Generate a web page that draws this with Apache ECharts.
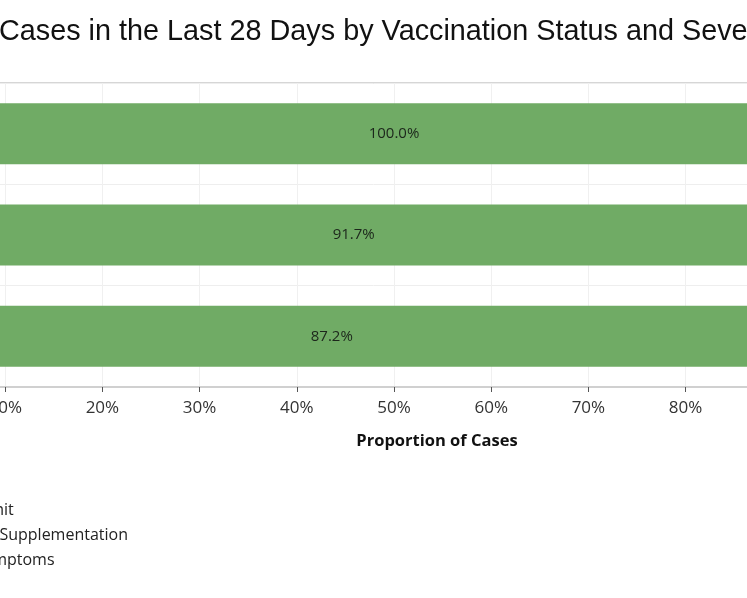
<!DOCTYPE html>
<html>
<head>
<meta charset="utf-8">
<script src="https://cdn.jsdelivr.net/npm/echarts@6/dist/echarts.min.js"></script>
<style>
html,body{margin:0;padding:0;background:#fff;overflow:hidden;}
#chart{width:747px;height:598px;}
</style>
</head>
<body>
<div id="chart"></div>
<script>
// ---- data ----
const categories = ['Fully Vaccinated', 'Partially Vaccinated', 'Unvaccinated'];
const seriesNames = ['ICU Admit', 'Oxygen Supplementation', 'Mild Symptoms'];
const mildSymptoms = [100.0, 91.7, 87.2];
const icuAdmit = [0.0, 2.8, 4.3];
const oxygenSupplementation = [0.0, 5.5, 8.5];
const xTicks = [0, 10, 20, 30, 40, 50, 60, 70, 80, 90, 100];

// ---- layout helpers ----
const legendFont = '16px "Open Sans"';
const mc = document.createElement('canvas').getContext('2d');
mc.font = legendFont;
const oxyW = mc.measureText(seriesNames[1]).width;
const legendTextStart = 128 - oxyW;
const legendItemW = 14;

const chart = echarts.init(document.getElementById('chart'), null, {renderer: 'canvas'});
const green = '#70ab65';

const option = {
  backgroundColor: '#ffffff',
  animation: false,
  title: {
    text: 'Cases in the Last 28 Days by Vaccination Status and Severity',
    left: -1,
    top: 18,
    padding: 0,
    textStyle: {
      fontFamily: '"Liberation Sans", Arial, sans-serif',
      fontSize: 28.8,
      fontWeight: 'normal',
      color: '#111'
    }
  },
  legend: {
    orient: 'vertical',
    left: legendTextStart - legendItemW - 5,
    top: 502,
    padding: 0,
    itemWidth: legendItemW,
    itemHeight: 16,
    itemGap: 9,
    data: seriesNames,
    textStyle: {
      fontFamily: '"Open Sans", sans-serif',
      fontSize: 16,
      lineHeight: 16,
      color: '#222'
    }
  },
  grid: {
    left: -92,
    right: -133,
    top: 83,
    bottom: 211,
    show: true,
    borderColor: '#d6d6d6',
    borderWidth: 2,
    containLabel: false,
    outerBoundsMode: 'none'
  },
  xAxis: {
    type: 'value',
    min: xTicks[0],
    max: xTicks[xTicks.length - 1],
    interval: 10,
    name: 'Proportion of Cases',
    nameLocation: 'middle',
    nameGap: 46,
    nameTextStyle: {
      fontFamily: '"Open Sans", sans-serif',
      fontSize: 16.5,
      fontWeight: 'bold',
      color: '#111',
      padding: [0, 0, 0, 86]
    },
    axisLine: {show: true, lineStyle: {color: '#d0d0d0', width: 2}},
    axisTick: {show: true, length: 5, lineStyle: {color: '#555', width: 1}},
    axisLabel: {
      margin: 13,
      fontFamily: '"Open Sans", sans-serif',
      fontSize: 17,
      color: '#333',
      formatter: '{value}%'
    },
    splitLine: {show: true, lineStyle: {color: '#f0f0f0', width: 1}}
  },
  yAxis: {
    type: 'category',
    data: categories,
    inverse: true,
    axisLine: {show: false},
    axisTick: {show: false},
    axisLabel: {show: false},
    splitLine: {show: true, lineStyle: {color: '#eeeeee', width: 1}}
  },
  series: [
    {
      name: seriesNames[2],
      type: 'bar',
      stack: 'total',
      data: mildSymptoms,
      barWidth: 61,
      itemStyle: {color: green},
      label: {
        show: true,
        position: 'inside',
        fontFamily: '"Open Sans", sans-serif',
        fontSize: 15,
        color: '#1c261b',
        formatter: p => p.value.toFixed(1) + '%'
      }
    },
    {
      name: seriesNames[0],
      type: 'bar',
      stack: 'total',
      data: icuAdmit,
      barWidth: 61,
      itemStyle: {color: '#e15759'}
    },
    {
      name: seriesNames[1],
      type: 'bar',
      stack: 'total',
      data: oxygenSupplementation,
      barWidth: 61,
      itemStyle: {color: '#f28e2b'}
    }
  ]
};
chart.setOption(option);
</script>
</body>
</html>
